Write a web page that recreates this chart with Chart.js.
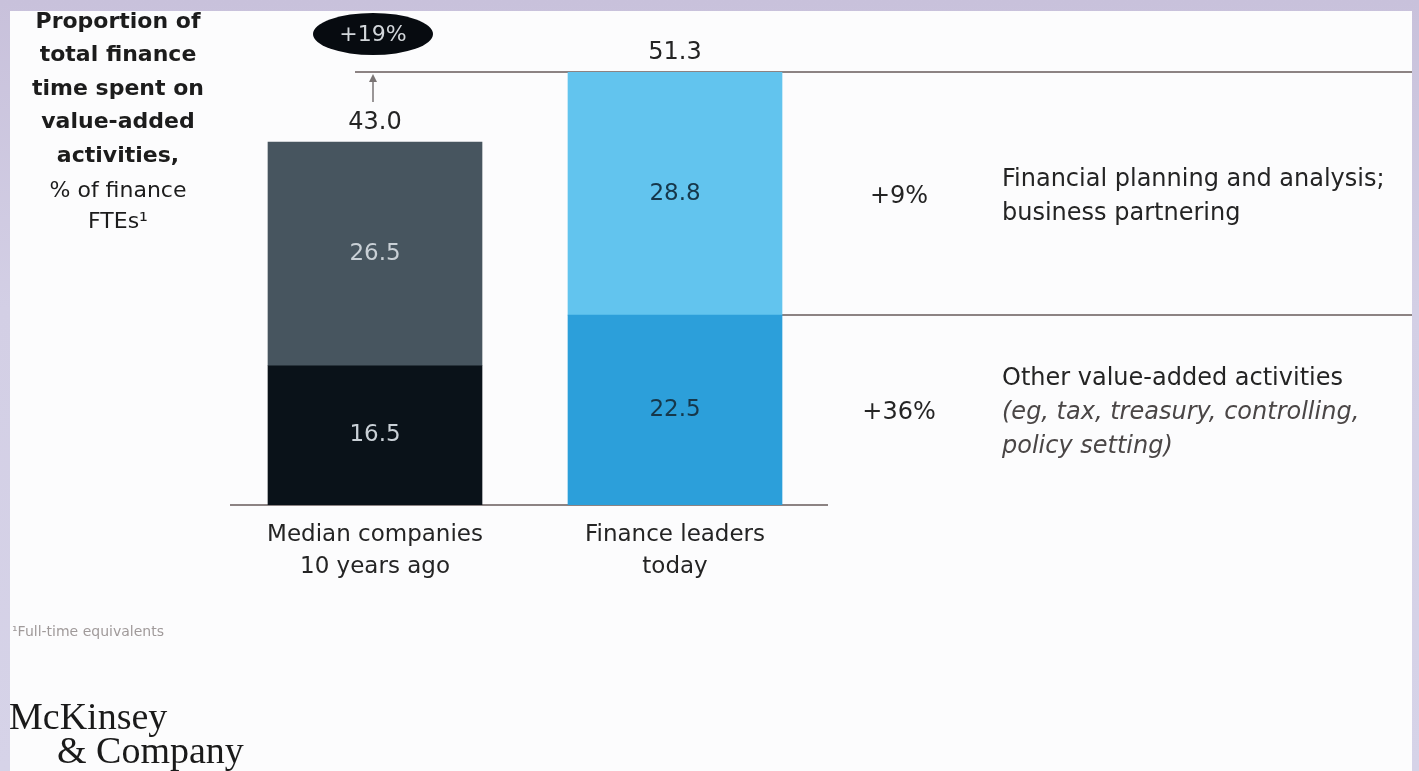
<!DOCTYPE html>
<html>
<head>
<meta charset="utf-8">
<title>Value-added finance time</title>
<script src="https://cdn.jsdelivr.net/npm/chart.js@4"></script>
<style>
  html, body { margin: 0; padding: 0; }
  body {
    width: 1419px; height: 771px; overflow: hidden; position: relative;
    background: linear-gradient(180deg, #c8c1db 0%, #d3cfe5 40%, #d6d3e8 100%);
  }
  #panel {
    position: absolute; left: 10px; top: 11px; width: 1402px; height: 760px;
    background: #fcfcfd;
  }
  #myChart { position: absolute; left: 0; top: 0; }
</style>
</head>
<body>
<div id="panel"></div>
<canvas id="myChart" width="1419" height="771"></canvas>
<script>
// datos
const categories = [['Median companies', '10 years ago'], ['Finance leaders', 'today']];
const otherActivities = [16.5, 22.5];
const planningPartnering = [26.5, 28.8];
const totalGrowth = '+19%';
const segmentGrowth = ['+36%', '+9%'];
const segmentNames = [
  { plain: ['Other value-added activities'], italic: ['(eg, tax, treasury, controlling,', 'policy setting)'] },
  { plain: ['Financial planning and analysis;', 'business partnering'], italic: [] }
];
const titleLines = ['Proportion of', 'total finance', 'time spent on', 'value-added', 'activities,'];
const titleLinesLight = ['% of finance', 'FTEs\u00b9'];

const totals = otherActivities.map((v, i) => v + planningPartnering[i]);

const SANS = '"DejaVu Sans", Verdana, sans-serif';
const INK = '#242424';
const RULE = '#8c8383';

const overlay = {
  id: 'overlay',
  beforeDatasetsDraw(chart) {
    const { ctx } = chart;
    const y = chart.scales.y;
    const leaders = chart.getDatasetMeta(1).data[1];
    const lowLeaders = chart.getDatasetMeta(0).data[1];
    ctx.save();
    ctx.strokeStyle = RULE;
    ctx.lineWidth = 2;
    // línea del total
    ctx.beginPath();
    ctx.moveTo(355, y.getPixelForValue(totals[1]));
    ctx.lineTo(1412, y.getPixelForValue(totals[1]));
    ctx.stroke();
    // línea entre segmentos
    ctx.beginPath();
    ctx.moveTo(leaders.x + leaders.width / 2, lowLeaders.y);
    ctx.lineTo(1412, lowLeaders.y);
    ctx.stroke();
    // eje
    ctx.beginPath();
    ctx.moveTo(230, y.getPixelForValue(0));
    ctx.lineTo(828, y.getPixelForValue(0));
    ctx.stroke();
    ctx.restore();
  },
  afterDatasetsDraw(chart) {
    const { ctx } = chart;
    const y = chart.scales.y;
    ctx.save();
    ctx.textAlign = 'center';
    ctx.textBaseline = 'middle';

    // valores dentro de las barras
    const inside = [['#c9d0d6', '#16374a'], ['#c9d0d6', '#16374a']];
    [otherActivities, planningPartnering].forEach((arr, d) => {
      chart.getDatasetMeta(d).data.forEach((bar, i) => {
        ctx.font = '23px ' + SANS;
        ctx.fillStyle = inside[d][i];
        ctx.fillText(arr[i].toFixed(1), bar.x, (bar.y + bar.base) / 2);
      });
    });

    // totales
    chart.getDatasetMeta(1).data.forEach((bar, i) => {
      ctx.font = '24px ' + SANS;
      ctx.fillStyle = INK;
      ctx.fillText(totals[i].toFixed(1), bar.x, bar.y - 19);
    });

    // flecha y elipse
    const first = chart.getDatasetMeta(1).data[0];
    const topY = y.getPixelForValue(totals[1]);
    const ax = first.x - 2;
    ctx.strokeStyle = '#7a7474';
    ctx.fillStyle = '#7a7474';
    ctx.lineWidth = 1.5;
    ctx.beginPath();
    ctx.moveTo(ax, first.y - 40);
    ctx.lineTo(ax, topY + 4);
    ctx.stroke();
    ctx.beginPath();
    ctx.moveTo(ax, topY + 2);
    ctx.lineTo(ax - 4, topY + 10);
    ctx.lineTo(ax + 4, topY + 10);
    ctx.closePath();
    ctx.fill();

    ctx.fillStyle = '#070b10';
    ctx.beginPath();
    ctx.ellipse(ax, 34, 60, 21, 0, 0, Math.PI * 2);
    ctx.fill();
    ctx.fillStyle = '#d2d6da';
    ctx.font = '22px ' + SANS;
    ctx.fillText(totalGrowth, ax, 35);

    // crecimiento por segmento y descripciones
    [0, 1].forEach(d => {
      const bar = chart.getDatasetMeta(d).data[1];
      const cy = (bar.y + bar.base) / 2;
      ctx.textAlign = 'center';
      ctx.fillStyle = INK;
      ctx.font = '24px ' + SANS;
      ctx.fillText(segmentGrowth[d], 899, cy + 3);

      const seg = segmentNames[d];
      const lines = seg.plain.map(t => [t, false]).concat(seg.italic.map(t => [t, true]));
      const lh = 34;
      let ly = cy + 3 - (lines.length - 1) * lh / 2;
      ctx.textAlign = 'left';
      lines.forEach(([t, it]) => {
        ctx.font = (it ? 'italic ' : '') + '24px ' + SANS;
        ctx.fillStyle = it ? '#4a4646' : INK;
        ctx.fillText(t, 1002, ly);
        ly += lh;
      });
    });

    // título del eje
    ctx.textAlign = 'center';
    ctx.fillStyle = '#1c1c1c';
    let ty = 22;
    titleLines.forEach(t => {
      ctx.font = 'bold 22px ' + SANS;
      ctx.fillText(t, 118, ty);
      ty += 33.5;
    });
    ty += 2;
    titleLinesLight.forEach(t => {
      ctx.font = '22px ' + SANS;
      ctx.fillText(t, 118, ty);
      ty += 31;
    });

    // categorías
    ctx.fillStyle = INK;
    ctx.font = '23px ' + SANS;
    chart.getDatasetMeta(0).data.forEach((bar, i) => {
      categories[i].forEach((t, k) => {
        ctx.fillText(t, bar.x, 535 + k * 32);
      });
    });

    // nota y logo
    ctx.textAlign = 'left';
    ctx.fillStyle = '#a09a9a';
    ctx.font = '14px ' + SANS;
    ctx.fillText('\u00b9Full-time equivalents', 12, 632);
    ctx.fillStyle = '#1a1a1a';
    ctx.textBaseline = 'alphabetic';
    ctx.font = '38px "Liberation Serif", "Times New Roman", serif';
    ctx.fillText('McKinsey', 9, 729);
    ctx.fillText('& Company', 57, 763);
    ctx.restore();
  }
};

const ctx = document.getElementById('myChart').getContext('2d');
const myChart = new Chart(ctx, {
  type: 'bar',
  data: {
    labels: categories,
    datasets: [
      {
        label: 'Other value-added activities',
        data: otherActivities,
        backgroundColor: ['#0a1219', '#2c9fda']
      },
      {
        label: 'Financial planning and analysis; business partnering',
        data: planningPartnering,
        backgroundColor: ['#47555f', '#62c4ee']
      }
    ]
  },
  options: {
    responsive: false,
    animation: false,
    maintainAspectRatio: false,
    layout: { padding: { top: 72, bottom: 266, left: 225, right: 594 } },
    datasets: { bar: { barThickness: 214, borderWidth: 0 } },
    plugins: { legend: { display: false }, tooltip: { enabled: false } },
    scales: {
      x: { stacked: true, display: false },
      y: { stacked: true, display: false, min: 0, max: Math.max(...totals) }
    }
  },
  plugins: [overlay]
});
</script>
</body>
</html>
